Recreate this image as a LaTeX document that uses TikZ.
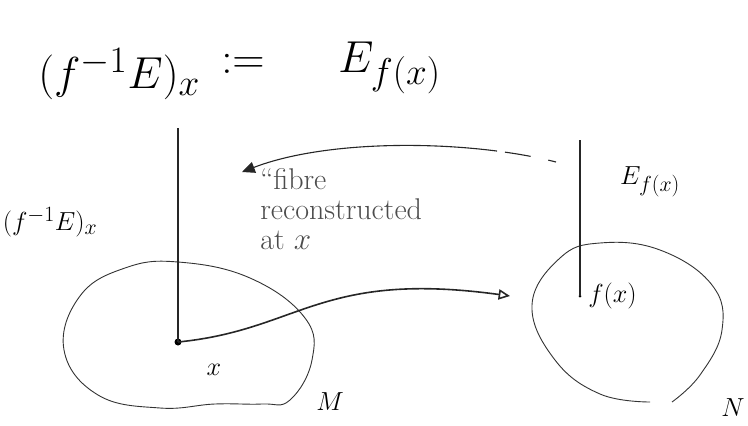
\documentclass[tikz,border=0pt]{standalone}
\usetikzlibrary{positioning,arrows.meta}

\begin{document}
\begin{tikzpicture}[
  x=1pt, y=-1pt,
  ink/.style={line width=1.1pt, black!85},
  fibre/.style={line width=1.6pt, black!85},
  space/.style={line width=0.9pt, black!80},
  big/.style={font=\Huge, scale=1.8},
  lbl/.style={font=\Huge, scale=1.05},
  note/.style={font=\fontsize{20}{20}\selectfont, scale=1.5, align=left,
               text=black!70, inner sep=0pt},
  dot/.style={circle, fill=black, inner sep=0pt, minimum size=#1},
]
  \useasboundingbox (0,0) rectangle (748,426);

  % Definition on top
  \node[big, anchor=west, inner sep=0pt] (lhs) at (38,74) {$(f^{-1}E)_x$};
  \node[big] (eq) at (243,64) {$:=$};
  \node[big, anchor=west, inner sep=0pt] (rhs) at (338,68) {$E_{f(x)}$};

  % Base spaces
  \draw[space] plot[smooth cycle, tension=0.7] coordinates {
    (178,262) (250,278) (305,318) (312,360) (290,400) (262,404)
    (215,404) (160,408) (98,395) (64,350) (80,296) (125,268)};
  \draw[space] plot[smooth, tension=0.7] coordinates {
    (650,402) (600,394) (555,360) (532,305) (560,258) (600,243)
    (660,250) (712,285) (722,330) (700,375) (672,402)};
  \node[lbl] (M) at (330,402) {$M$};
  \node[lbl] (N) at (733,408) {$N$};

  % Points and fibres
  \node[dot=7pt] (x) at (178,342) {};
  \node[dot=3pt] (fx) at (580,296) {};
  \coordinate (xtop) at (178,128);
  \coordinate (fxtop) at (580,140);
  \draw[fibre] (x.center) -- (xtop);
  \draw[fibre] (fx.center) -- (fxtop);
  \node[lbl] (xl) at (214,370) {$x$};
  \node[lbl, right=1mm of fx] (fxl) {$f(x)$};
  \node[lbl] (fibL) at (50,222) {$(f^{-1}E)_x$};
  \node[lbl] (fibR) at (650,182) {$E_{f(x)}$};

  % The map f
  \coordinate (img) at (510,296);
  \draw[ink, line width=1.6pt, -{Triangle[open, length=4mm, width=3.6mm]}]
    (x.center) .. controls (300,330) and (320,270) .. (img);

  % Pulling the fibre back
  \coordinate (pullA) at (556,162);
  \coordinate (pullB) at (242,172);
  \draw[ink, dash pattern=on 8pt off 18pt on 26pt off 8pt on 600pt,
        -{Triangle[length=4.5mm, width=4mm]}]
    (pullA) .. controls (470,140) and (330,138) .. (pullB);
  \node[note, anchor=north west] (txt) at (260,168)
    {``fibre\\reconstructed\\at $x$};
\end{tikzpicture}
\end{document}
